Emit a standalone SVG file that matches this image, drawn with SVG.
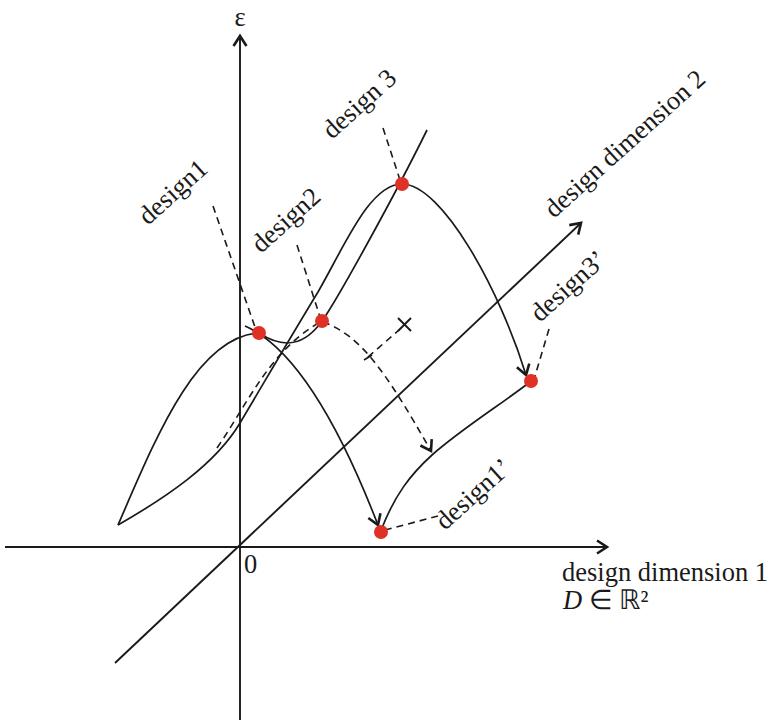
<svg xmlns="http://www.w3.org/2000/svg" width="773" height="720" viewBox="0 0 773 720">
<style>
.ln{fill:none;stroke:#1a1a1a;stroke-width:1.7}
.ax{fill:none;stroke:#1a1a1a;stroke-width:1.9}
.ds{fill:none;stroke:#1a1a1a;stroke-width:1.6;stroke-dasharray:7 5}
.dot{fill:#e03127}
.t{font-family:"Liberation Serif","Times New Roman",serif;font-size:26.5px;fill:#1a1a1a}
</style>
<defs>
<marker id="ah" markerUnits="userSpaceOnUse" markerWidth="20" markerHeight="20" viewBox="-12 -10 14 20" refX="0" refY="0" orient="auto">
<path d="M-10,-6.5 L0,0 L-10,6.5" fill="none" stroke="#1a1a1a" stroke-width="2.6"/>
</marker>
</defs>
<rect width="773" height="720" fill="#fff"/>
<g id="axes">
<line class="ax" x1="240" y1="720" x2="240" y2="36" marker-end="url(#ah)"/>
<line class="ax" x1="5" y1="547" x2="607" y2="547" marker-end="url(#ah)"/>
<line class="ax" x1="115" y1="663" x2="581" y2="223" marker-end="url(#ah)"/>
<text class="t" x="240" y="26" text-anchor="middle" font-size="26">ε</text>
<text class="t" x="244" y="573">0</text>
<text class="t" x="562" y="581">design dimension 1</text>
<text class="t" x="563" y="609"><tspan font-style="italic">D</tspan> ∈ ℝ²</text>
<text class="t" transform="translate(554,219) rotate(-42)">design dimension 2</text>
</g>
<g id="connectors">
<path class="ln" d="M118,525 C155,440 195,338 258,333"/>
<path class="ln" d="M245,326 C300,350 345,440 378,525" marker-end="url(#ah)"/>
<path class="ln" d="M118,525 C165,498 215,465 240,423 C265,381 290,338 318,292 C345,245 370,184 402,184 C442,184 500,290 526,375" marker-end="url(#ah)"/>
<path class="ln" d="M259,333 C285,350 305,345 322,321 C336,302 395,195 427,130"/>
<path class="ln" d="M382,528 C395,495 410,475 432,455 C460,430 500,405 530,382"/>
<path class="ds" d="M217,448 C250,400 270,350 322,321"/>
<path class="ds" d="M323,322 C360,335 385,370 431,451" marker-end="url(#ah)"/>
<line class="ds" x1="368" y1="357" x2="399" y2="330"/>
<line class="ln" x1="364" y1="360" x2="372" y2="355"/>
<line x1="398" y1="318" x2="411" y2="331" stroke="#1a1a1a" stroke-width="2"/>
<line x1="411" y1="318" x2="398" y2="331" stroke="#1a1a1a" stroke-width="2"/>
<line class="ds" x1="213" y1="206" x2="256" y2="330"/>
<line class="ds" x1="297" y1="245" x2="320" y2="317"/>
<line class="ds" x1="383" y1="128" x2="400" y2="180"/>
<line class="ds" x1="549" y1="329" x2="535" y2="376"/>
<line class="ds" x1="438" y1="516" x2="385" y2="530"/>
</g>
<g id="design1">
<circle class="dot" cx="259" cy="333" r="7"/>
<text class="t" transform="translate(148,226) rotate(-42)">design1</text>
</g>
<g id="design2">
<circle class="dot" cx="322" cy="321" r="7"/>
<text class="t" transform="translate(261,254) rotate(-42)">design2</text>
</g>
<g id="design3">
<circle class="dot" cx="402" cy="184" r="7"/>
<text class="t" transform="translate(332,140) rotate(-42)">design 3</text>
</g>
<g id="design3p">
<circle class="dot" cx="531" cy="381" r="7"/>
<text class="t" transform="translate(540,323) rotate(-42)">design3’</text>
</g>
<g id="design1p">
<circle class="dot" cx="381" cy="532" r="7"/>
<text class="t" transform="translate(445,531) rotate(-42)">design1’</text>
</g>
</svg>
